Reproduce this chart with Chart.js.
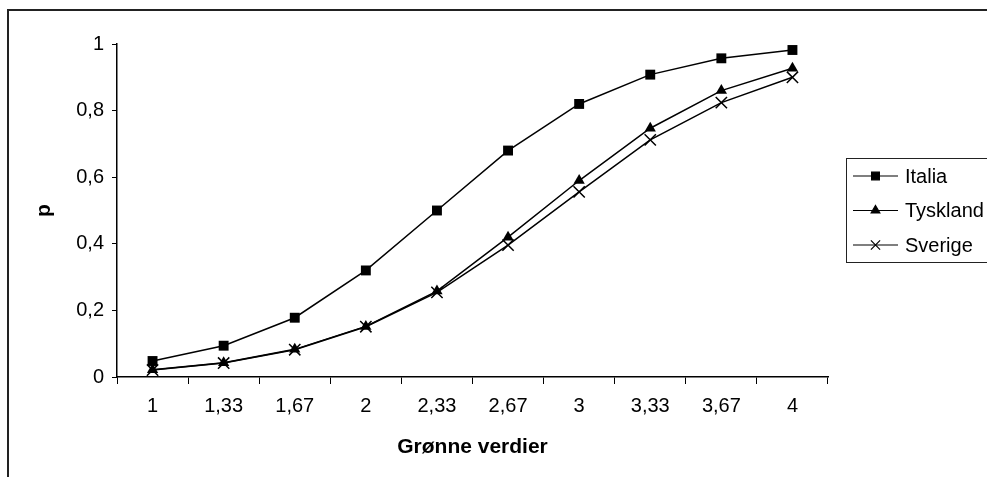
<!DOCTYPE html>
<html lang="no">
<head>
    <meta charset="UTF-8">
    <title>Grønne verdier</title>
    <script src="https://cdn.jsdelivr.net/npm/chart.js"></script>
    <style>
        html, body {
            margin: 0;
            padding: 0;
            width: 987px;
            height: 477px;
            overflow: hidden;
            background: #fff;
        }
        .frame {
            position: absolute;
            left: 7px;
            top: 9px;
            width: 1100px;
            height: 600px;
            border: 2px solid #222;
        }
        #wrap {
            position: absolute;
            left: 0;
            top: 0;
            width: 987px;
            height: 477px;
        }
    </style>
</head>
<body>
    <div class="frame"></div>
    <div id="wrap"><canvas id="chart"></canvas></div>

    <script>
        // data
        const categories = ['1', '1,33', '1,67', '2', '2,33', '2,67', '3', '3,33', '3,67', '4'];
        const italia = [0.048, 0.094, 0.178, 0.32, 0.50, 0.68, 0.82, 0.908, 0.957, 0.982];
        const tyskland = [0.022, 0.043, 0.083, 0.152, 0.258, 0.42, 0.59, 0.747, 0.86, 0.927];
        const sverige = [0.021, 0.042, 0.082, 0.151, 0.254, 0.396, 0.556, 0.712, 0.824, 0.90];
        const yTicks = [0, 0.2, 0.4, 0.6, 0.8, 1];

        const font = 'Arial, "Liberation Sans", sans-serif';

        // legend box on the right, Excel style (line - marker - line)
        const boxLegend = {
            id: 'boxLegend',
            afterDraw(chart) {
                const ctx = chart.ctx;
                ctx.save();
                ctx.strokeStyle = '#222';
                ctx.lineWidth = 1;
                ctx.strokeRect(846.5, 158.5, 200, 104);
                ctx.font = '20px ' + font;
                ctx.textBaseline = 'middle';
                chart.data.datasets.forEach((ds, i) => {
                    const y = 176 + i * 34.5;
                    ctx.strokeStyle = '#000';
                    ctx.lineWidth = 1.2;
                    ctx.beginPath();
                    ctx.moveTo(853, y);
                    ctx.lineTo(898, y);
                    ctx.stroke();
                    ctx.fillStyle = '#000';
                    ctx.strokeStyle = '#000';
                    Chart.helpers.drawPoint(ctx, {
                        pointStyle: ds.pointStyle,
                        radius: ds.pointRadius - 1.5,
                        rotation: 0,
                        borderWidth: 1.2
                    }, 875.5, y);
                    ctx.fillStyle = '#000';
                    ctx.fillText(ds.label, 905, y + 1);
                });
                ctx.restore();
            }
        };

        const ctx = document.getElementById('chart').getContext('2d');
        new Chart(ctx, {
            type: 'line',
            data: {
                labels: categories,
                datasets: [
                    {
                        label: 'Italia', data: italia,
                        borderColor: '#000', backgroundColor: '#000', borderWidth: 1.5,
                        pointStyle: 'rect', pointRadius: 7, pointBorderWidth: 0
                    },
                    {
                        label: 'Tyskland', data: tyskland,
                        borderColor: '#000', backgroundColor: '#000', borderWidth: 1.5,
                        pointStyle: 'triangle', pointRadius: 6.5, pointBorderWidth: 0
                    },
                    {
                        label: 'Sverige', data: sverige,
                        borderColor: '#000', backgroundColor: '#000', borderWidth: 1.5,
                        pointStyle: 'crossRot', pointRadius: 8, pointBorderWidth: 1.5
                    }
                ]
            },
            options: {
                responsive: true,
                maintainAspectRatio: false,
                animation: false,
                layout: { padding: { left: 0, right: 159, top: 44, bottom: 0 } },
                plugins: {
                    legend: { display: false },
                    tooltip: { enabled: false }
                },
                scales: {
                    x: {
                        offset: true,
                        grid: { offset: true, drawOnChartArea: false, drawTicks: true, tickLength: 7, color: '#000' },
                        border: { display: true, color: '#000', width: 1.5 },
                        ticks: { color: '#000', font: { family: font, size: 20 }, padding: 10, maxRotation: 0, autoSkip: false },
                        title: {
                            display: true, text: 'Grønne verdier', color: '#000',
                            font: { family: font, size: 21, weight: 'bold' }, padding: { top: 0, bottom: 17 }
                        },
                        afterFit(scale) { scale.height = 100; }
                    },
                    y: {
                        min: 0, max: 1,
                        afterBuildTicks(scale) { scale.ticks = yTicks.map(v => ({ value: v })); },
                        grid: { drawOnChartArea: false, drawTicks: true, tickLength: 5, color: '#000' },
                        border: { display: true, color: '#000', width: 1.5 },
                        ticks: {
                            color: '#000', font: { family: font, size: 20 }, padding: 8,
                            callback: v => String(Number(v.toFixed(1))).replace('.', ',')
                        },
                        title: {
                            display: true, text: 'p', color: '#000',
                            font: { family: font, size: 21, weight: 'bold' }, padding: { top: 32 }
                        },
                        afterFit(scale) { scale.width = 117; }
                    }
                }
            },
            plugins: [boxLegend]
        });
    </script>
</body>
</html>
